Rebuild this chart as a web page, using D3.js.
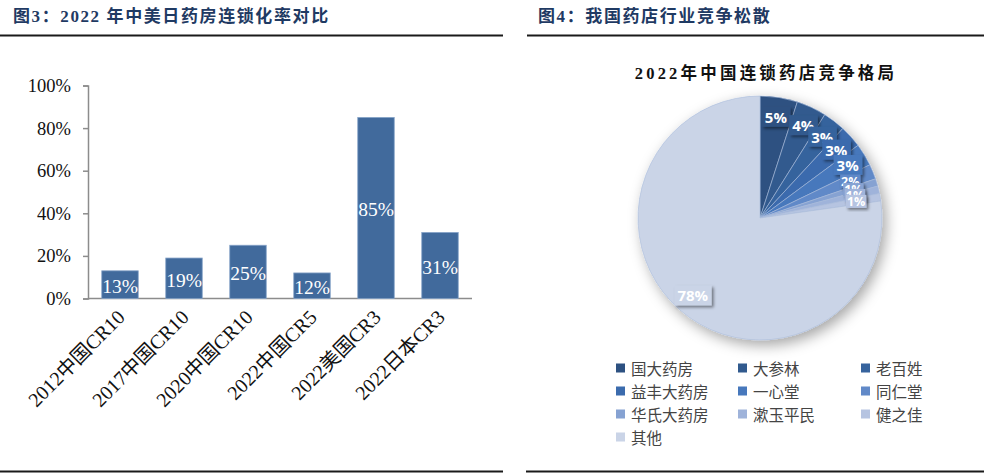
<!DOCTYPE html>
<html><head><meta charset="utf-8">
<script src="https://cdn.jsdelivr.net/npm/d3@7/dist/d3.min.js"></script>
<style>
body{margin:0;background:#fff;}
svg{display:block;}
</style></head>
<body>
<svg id="c" width="984" height="475"></svg>
<script>
// ---- data ----
const barCategories = ["2012中国CR10","2017中国CR10","2020中国CR10","2022中国CR5","2022美国CR3","2022日本CR3"];
const barValues = [13,19,25,12,85,31];
const yTickValues = [0,20,40,60,80,100];
const pieNames = ["国大药房","大参林","老百姓","益丰大药房","一心堂","同仁堂","华氏大药房","漱玉平民","健之佳","其他"];
const pieValues = [5,4,3,3,3,2,1,1,1,78];
const pieColors = ["#2d5181","#315a8e","#36639d","#3b6bad","#4778bc","#6189c8","#86a2d2","#9fb3da","#b6c4e1","#cad4e7"];
const title1 = "图3：2022 年中美日药房连锁化率对比";
const title2 = "图4：我国药店行业竞争松散";
const pieTitle = "2022年中国连锁药店竞争格局";

const svg = d3.select("#c");
const defs = svg.append("defs");
const f1 = defs.append("filter").attr("id","pieShadow").attr("x","-30%").attr("y","-30%").attr("width","160%").attr("height","160%");
f1.append("feDropShadow").attr("dx",4).attr("dy",5).attr("stdDeviation",7).attr("flood-color","#000").attr("flood-opacity",0.35);
const f2 = defs.append("filter").attr("id","lblShadow").attr("x","-30%").attr("y","-30%").attr("width","160%").attr("height","160%");
f2.append("feDropShadow").attr("dx",2).attr("dy",2).attr("stdDeviation",1.5).attr("flood-color","#000").attr("flood-opacity",0.45);

// ---- titles & rules ----
const titleFont = "'Liberation Serif','Noto Sans CJK SC',serif";
svg.append("text").attr("x",13).attr("y",22).text(title1)
  .attr("font-family",titleFont).attr("font-weight","bold").attr("font-size",17)
  .attr("letter-spacing",1.6).attr("fill","#1f3a63");
svg.append("text").attr("x",538).attr("y",22).text(title2)
  .attr("font-family",titleFont).attr("font-weight","bold").attr("font-size",17)
  .attr("letter-spacing",1.6).attr("fill","#1f3a63");
[[0,503,35.5],[527,984,35.5],[0,503,471.5],[526,984,471.5]].forEach(([a,b,y])=>{
  svg.append("line").attr("x1",a).attr("x2",b).attr("y1",y).attr("y2",y)
    .attr("stroke","#1a1a1a").attr("stroke-width",2);
});

// ---- bar chart ----
const x = d3.scaleBand().domain(barCategories).range([88,472]).paddingInner(0.43).paddingOuter(0.215);
const y = d3.scaleLinear().domain([0,100]).range([298.5,85.5]);
const serif = "'Liberation Serif','Noto Sans CJK SC',serif";

const yAxis = svg.append("g").attr("transform","translate(88,0)")
  .call(d3.axisLeft(y).tickValues(yTickValues).tickSize(5).tickPadding(12).tickFormat(d=>d+"%"));
yAxis.select(".domain").attr("stroke","#8c8c8c").attr("stroke-width",1.5);
yAxis.selectAll(".tick line").attr("stroke","#8c8c8c").attr("stroke-width",1.5);
yAxis.selectAll("text").attr("font-family",serif).attr("font-size",18.5).attr("fill","#111");

svg.append("line").attr("x1",88).attr("x2",472).attr("y1",y(0)).attr("y2",y(0))
  .attr("stroke","#8c8c8c").attr("stroke-width",1.5);

svg.selectAll("rect.bar").data(barValues).join("rect").attr("class","bar")
  .attr("x",(d,i)=>x(barCategories[i])).attr("width",x.bandwidth())
  .attr("y",d=>y(d)).attr("height",d=>y(0)-y(d))
  .attr("fill","#416a9c").attr("stroke","#86a3c8").attr("stroke-width",0.8);

svg.selectAll("text.bl").data(barValues).join("text").attr("class","bl")
  .attr("x",(d,i)=>x(barCategories[i])+x.bandwidth()/2)
  .attr("y",d=>(y(d)+y(0))/2+2)
  .attr("text-anchor","middle").attr("dominant-baseline","central")
  .attr("font-family",serif).attr("font-size",19.5).attr("fill","#fff")
  .text(d=>d+"%");

svg.selectAll("text.xl").data(barCategories).join("text").attr("class","xl")
  .attr("transform",d=>`translate(${x(d)+x.bandwidth()/2+6},${y(0)+20}) rotate(-45)`)
  .attr("text-anchor","end")
  .attr("font-family",serif).attr("font-size",20).attr("fill","#111")
  .text(d=>d);

// ---- pie chart ----
const cx = 760, cy = 218, R = 122;
svg.append("text").attr("x",766).attr("y",79).attr("text-anchor","middle")
  .attr("font-family",titleFont).attr("font-weight","bold").attr("font-size",16.5)
  .attr("letter-spacing",3.2).attr("fill","#111").text(pieTitle);

const pie = d3.pie().sort(null).value(d=>d);
const arcs = pie(pieValues);
const arc = d3.arc().innerRadius(0).outerRadius(R);
const gp = svg.append("g").attr("transform",`translate(${cx},${cy})`);
gp.append("g").attr("filter","url(#pieShadow)")
  .selectAll("path").data(arcs).join("path")
  .attr("d",arc).attr("fill",(d,i)=>pieColors[i])
  .attr("stroke","#a9bcdc").attr("stroke-width",0.6);

// labels
const lblG = gp.append("g");
arcs.forEach((a,i)=>{
  const big = pieValues[i] >= 3;
  const rr = big ? R*0.84 : R*0.8;
  const p = d3.arc().innerRadius(rr).outerRadius(rr).centroid(a);
  const g = lblG.append("g").attr("transform",`translate(${p[0]},${p[1]})`);
  const t = g.append("text").attr("text-anchor","middle").attr("dominant-baseline","central")
    .attr("font-family","'Open Sans','Noto Sans',sans-serif").attr("font-weight","bold")
    .attr("font-size",big?15:12.5).attr("fill","#fff").text(pieValues[i]+"%");
  const bb = t.node().getBBox();
  g.insert("rect","text").attr("x",bb.x-(big?3:1)).attr("y",bb.y+(big?0:2)).attr("width",bb.width+(big?6:2)).attr("height",bb.height-(big?0:4))
    .attr("fill",pieColors[i]).attr("filter","url(#lblShadow)");
});

// legend
const legX = [616,738,861], legY = [368,391,414,437];
pieNames.forEach((n,i)=>{
  const c = i%3, r = Math.floor(i/3);
  svg.append("rect").attr("x",legX[c]).attr("y",legY[r]-4.5).attr("width",9).attr("height",9).attr("fill",pieColors[i]);
  svg.append("text").attr("x",legX[c]+15).attr("y",legY[r]).attr("dominant-baseline","central")
    .attr("font-family","'Noto Sans CJK SC',sans-serif").attr("font-size",15.5).attr("fill","#444").text(n);
});
</script>
</body></html>
